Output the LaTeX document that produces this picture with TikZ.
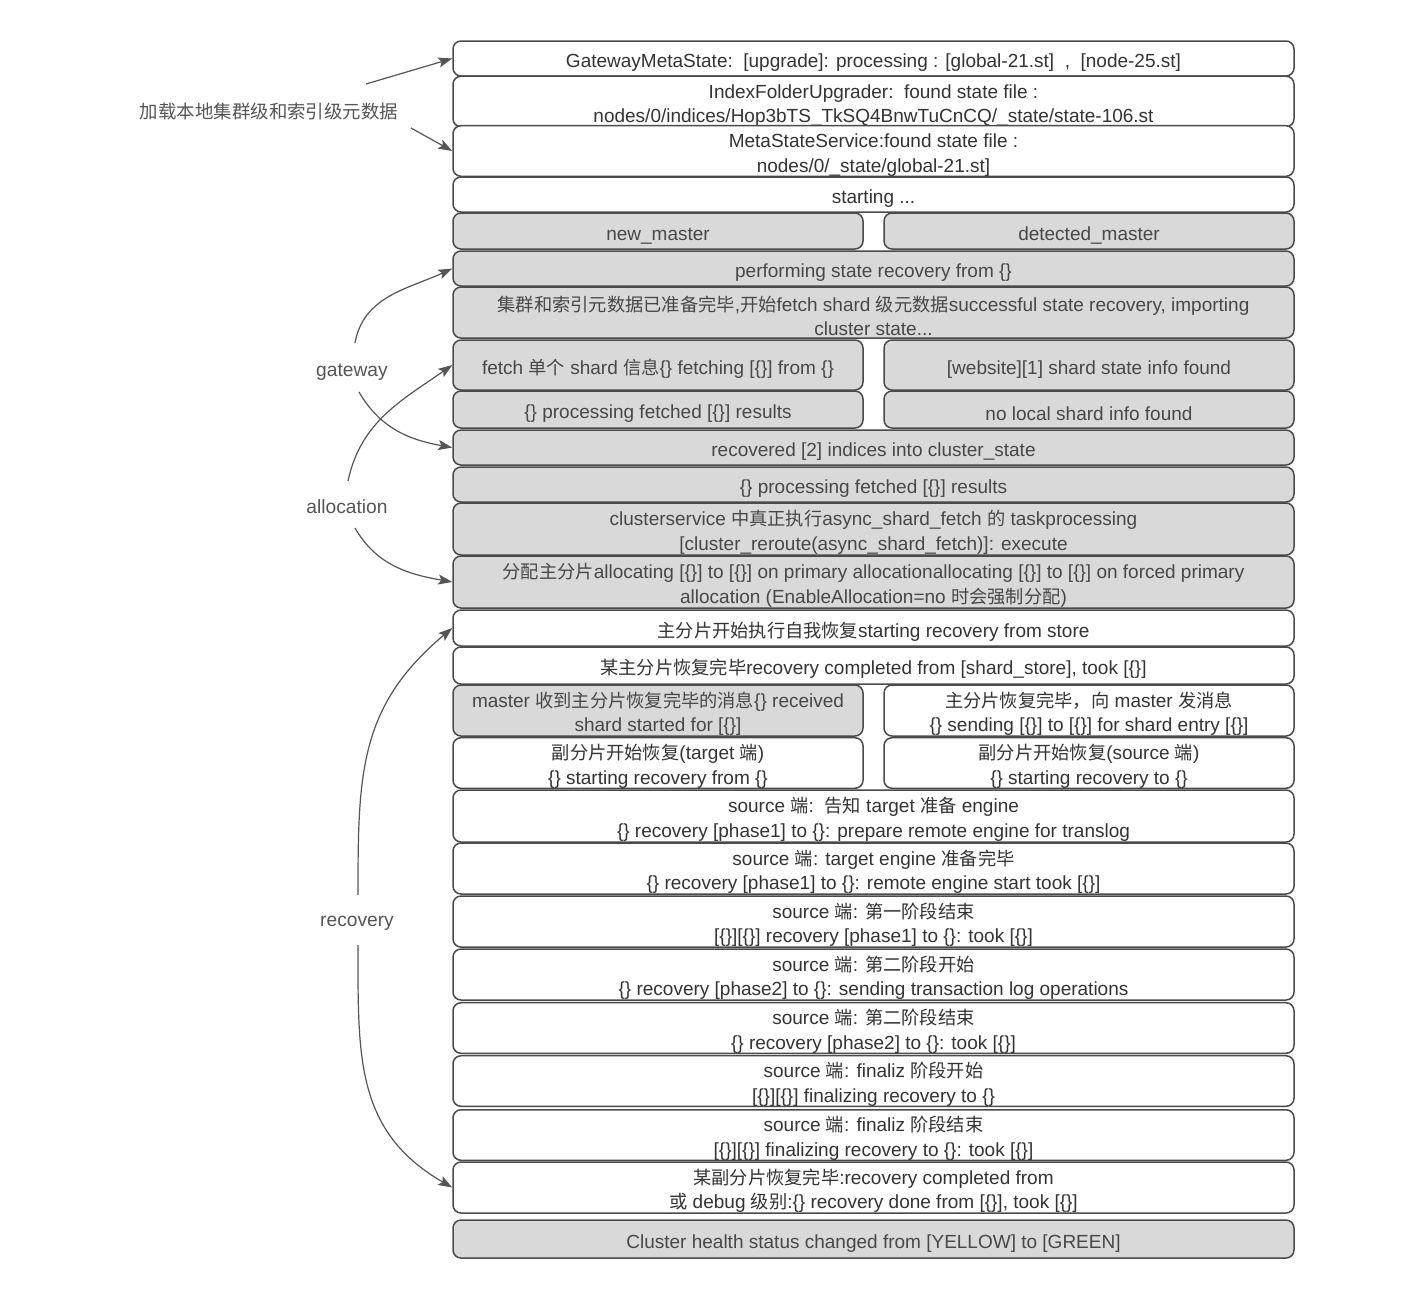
\documentclass[tikz,border=0pt]{standalone}
\usepackage{fontspec}
\setmainfont{Liberation Sans}
\newfontfamily\cjkfont[Scale=0.96]{Noto Sans CJK SC}
\newcommand\zh[1]{{\cjkfont #1}}
\usetikzlibrary{arrows.meta}
\definecolor{bordc}{HTML}{4A4A4A}
\definecolor{txtc}{HTML}{333333}
\definecolor{gtxt}{HTML}{474747}
\definecolor{boxgray}{HTML}{D9D9D9}
\definecolor{arrc}{HTML}{555555}
\definecolor{labc}{HTML}{555555}
\newcommand\bx[7]{%
  \pgfmathsetmacro\bxcx{(#2+#4)/2}%
  \pgfmathsetmacro\bxcy{(#3+#5)/2}%
  \pgfmathsetmacro\bxww{(#4-#2)*0.5}%
  \pgfmathsetmacro\bxhh{(#5-#3)*0.5}%
  \node[#6, minimum width=\bxww pt, minimum height=\bxhh pt] (#1) at (\bxcx,\bxcy) {\rule{0pt}{11pt}#7};}
\tikzset{
  boxbase/.style={draw=bordc, line width=0.75pt, rounded corners=4pt, inner sep=0pt, align=center,
    font=\fontsize{9.5pt}{12.3pt}\selectfont},
  wbox/.style={boxbase, fill=white, text=txtc},
  gbox/.style={boxbase, fill=boxgray, text=gtxt},
  lab/.style={text=labc, font=\fontsize{9.6pt}{11pt}\selectfont, inner sep=0pt},
  arr/.style={draw=arrc, line width=0.6pt, -{Stealth[length=7pt,width=5pt,inset=1.5pt]}}
}
\begin{document}
\begin{tikzpicture}[x=0.5pt,y=-0.5pt]
\path[fill=white] (0,0) rectangle (1418,1292);
\useasboundingbox (0,0) rectangle (1418,1292);

\bx{r1}{453}{41}{1294}{76}{wbox}{GatewayMetaState:\ \ [upgrade]: processing : [global-21.st]\ \ ,\ \ [node-25.st]}
\bx{r2}{453}{77}{1294}{126}{wbox}{IndexFolderUpgrader:\ \ found state file :\\nodes/0/indices/Hop3bTS\_TkSQ4BnwTuCnCQ/\_state/state-106.st}
\bx{r3}{453}{127}{1294}{175}{wbox}{MetaStateService:found state file :\\nodes/0/\_state/global-21.st]}
\bx{r4}{453}{177}{1294}{212}{wbox}{starting ...}
\bx{r5a}{453}{213}{863}{249}{gbox}{new\_master}
\bx{r5b}{884}{213}{1294}{249}{gbox}{detected\_master}
\bx{r6}{453}{251}{1294}{286}{gbox}{performing state recovery from \{\}}
\bx{r7}{453}{287}{1294}{338}{gbox}{\zh{集群和索引元数据已准备完毕},\zh{开始}fetch shard \zh{级元数据}successful state recovery, importing\\cluster state...}
\bx{r8a}{453}{340}{863}{390}{gbox}{fetch \zh{单个} shard \zh{信息}\{\} fetching [\{\}] from \{\}}
\bx{r8b}{884}{340}{1294}{390}{gbox}{[website][1] shard state info found}
\bx{r9a}{453}{391}{863}{428}{gbox}{\{\} processing fetched [\{\}] results}
\bx{r9b}{884}{391}{1294}{428}{gbox}{no local shard info found}
\bx{r10}{453}{430}{1294}{465}{gbox}{recovered [2] indices into cluster\_state}
\bx{r11}{453}{467}{1294}{502}{gbox}{\{\} processing fetched [\{\}] results}
\bx{r12}{453}{503}{1294}{555}{gbox}{clusterservice \zh{中真正执行}async\_shard\_fetch \zh{的} taskprocessing\\{[}cluster\_reroute(async\_shard\_fetch)]: execute}
\bx{r13}{453}{556}{1294}{608}{gbox}{\zh{分配主分片}allocating [\{\}] to [\{\}] on primary allocationallocating [\{\}] to [\{\}] on forced primary\\allocation (EnableAllocation=no \zh{时会强制分配})}
\bx{r14}{453}{610}{1294}{646}{wbox}{\zh{主分片开始执行自我恢复}starting recovery from store}
\bx{r15}{453}{647}{1294}{684}{wbox}{\zh{某主分片恢复完毕}recovery completed from [shard\_store], took [\{\}]}
\bx{r16a}{453}{685}{863}{736}{gbox}{master \zh{收到主分片恢复完毕的消息}\{\} received\\shard started for [\{\}]}
\bx{r16b}{884}{685}{1294}{736}{wbox}{\zh{主分片恢复完毕，向} master \zh{发消息}\\\{\} sending [\{\}] to [\{\}] for shard entry [\{\}]}
\bx{r17a}{453}{738}{863}{788}{wbox}{\zh{副分片开始恢复}(target \zh{端})\\\{\} starting recovery from \{\}}
\bx{r17b}{884}{738}{1294}{788}{wbox}{\zh{副分片开始恢复}(source \zh{端})\\\{\} starting recovery to \{\}}
\bx{r18}{453}{790}{1294}{842}{wbox}{source \zh{端}:\ \ \zh{告知} target \zh{准备} engine\\\{\} recovery [phase1] to \{\}: prepare remote engine for translog}
\bx{r19}{453}{843}{1294}{894}{wbox}{source \zh{端}: target engine \zh{准备完毕}\\\{\} recovery [phase1] to \{\}: remote engine start took [\{\}]}
\bx{r20}{453}{896}{1294}{947}{wbox}{source \zh{端}: \zh{第一阶段结束}\\{[}\{\}][\{\}] recovery [phase1] to \{\}: took [\{\}]}
\bx{r21}{453}{949}{1294}{1000}{wbox}{source \zh{端}: \zh{第二阶段开始}\\\{\} recovery [phase2] to \{\}: sending transaction log operations}
\bx{r22}{453}{1003}{1294}{1053}{wbox}{source \zh{端}: \zh{第二阶段结束}\\\{\} recovery [phase2] to \{\}: took [\{\}]}
\bx{r23}{453}{1056}{1294}{1106}{wbox}{source \zh{端}: finaliz \zh{阶段开始}\\{[}\{\}][\{\}] finalizing recovery to \{\}}
\bx{r24}{453}{1110}{1294}{1160}{wbox}{source \zh{端}: finaliz \zh{阶段结束}\\{[}\{\}][\{\}] finalizing recovery to \{\}: took [\{\}]}
\bx{r25}{453}{1162}{1294}{1213}{wbox}{\zh{某副分片恢复完毕}:recovery completed from\\\zh{或} debug \zh{级别}:\{\} recovery done from [\{\}], took [\{\}]}
\bx{r26}{453}{1220}{1294}{1258}{gbox}{Cluster health status changed from [YELLOW] to [GREEN]}

% left labels
\node[lab] (lload) at (269,111) {\zh{加载本地集群级和索引级元数据}};
\node[lab] (lgw) at (352,372) {gateway};
\node[lab] (lal) at (347,507) {allocation};
\node[lab] (lrc) at (357,923) {recovery};

\coordinate (s1) at (366,84);
\coordinate (s2) at (411,128);
\coordinate (s3) at (355,343);
\coordinate (s4) at (359,392);
\coordinate (s5) at (348,481);
\coordinate (s6) at (355,528);
\coordinate (s7) at (358,895);
\coordinate (s8) at (358,945);

\draw[arr] (s1) -- (r1.west);
\draw[arr] (s2) -- (r3.west);
\draw[arr] (s3) to[out=80,in=205] (r6.west);
\draw[arr] (s4) to[out=-60,in=170] (r10.west);
\draw[arr] (s5) to[out=78,in=215] (r8a.west);
\draw[arr] (s6) to[out=-60,in=170] (r13.west);
\draw[arr] (s7) to[out=90,in=220,looseness=1.1] (r14.west);
\draw[arr] (s8) to[out=-90,in=150,looseness=1.1] (r25.west);
\end{tikzpicture}
\end{document}
